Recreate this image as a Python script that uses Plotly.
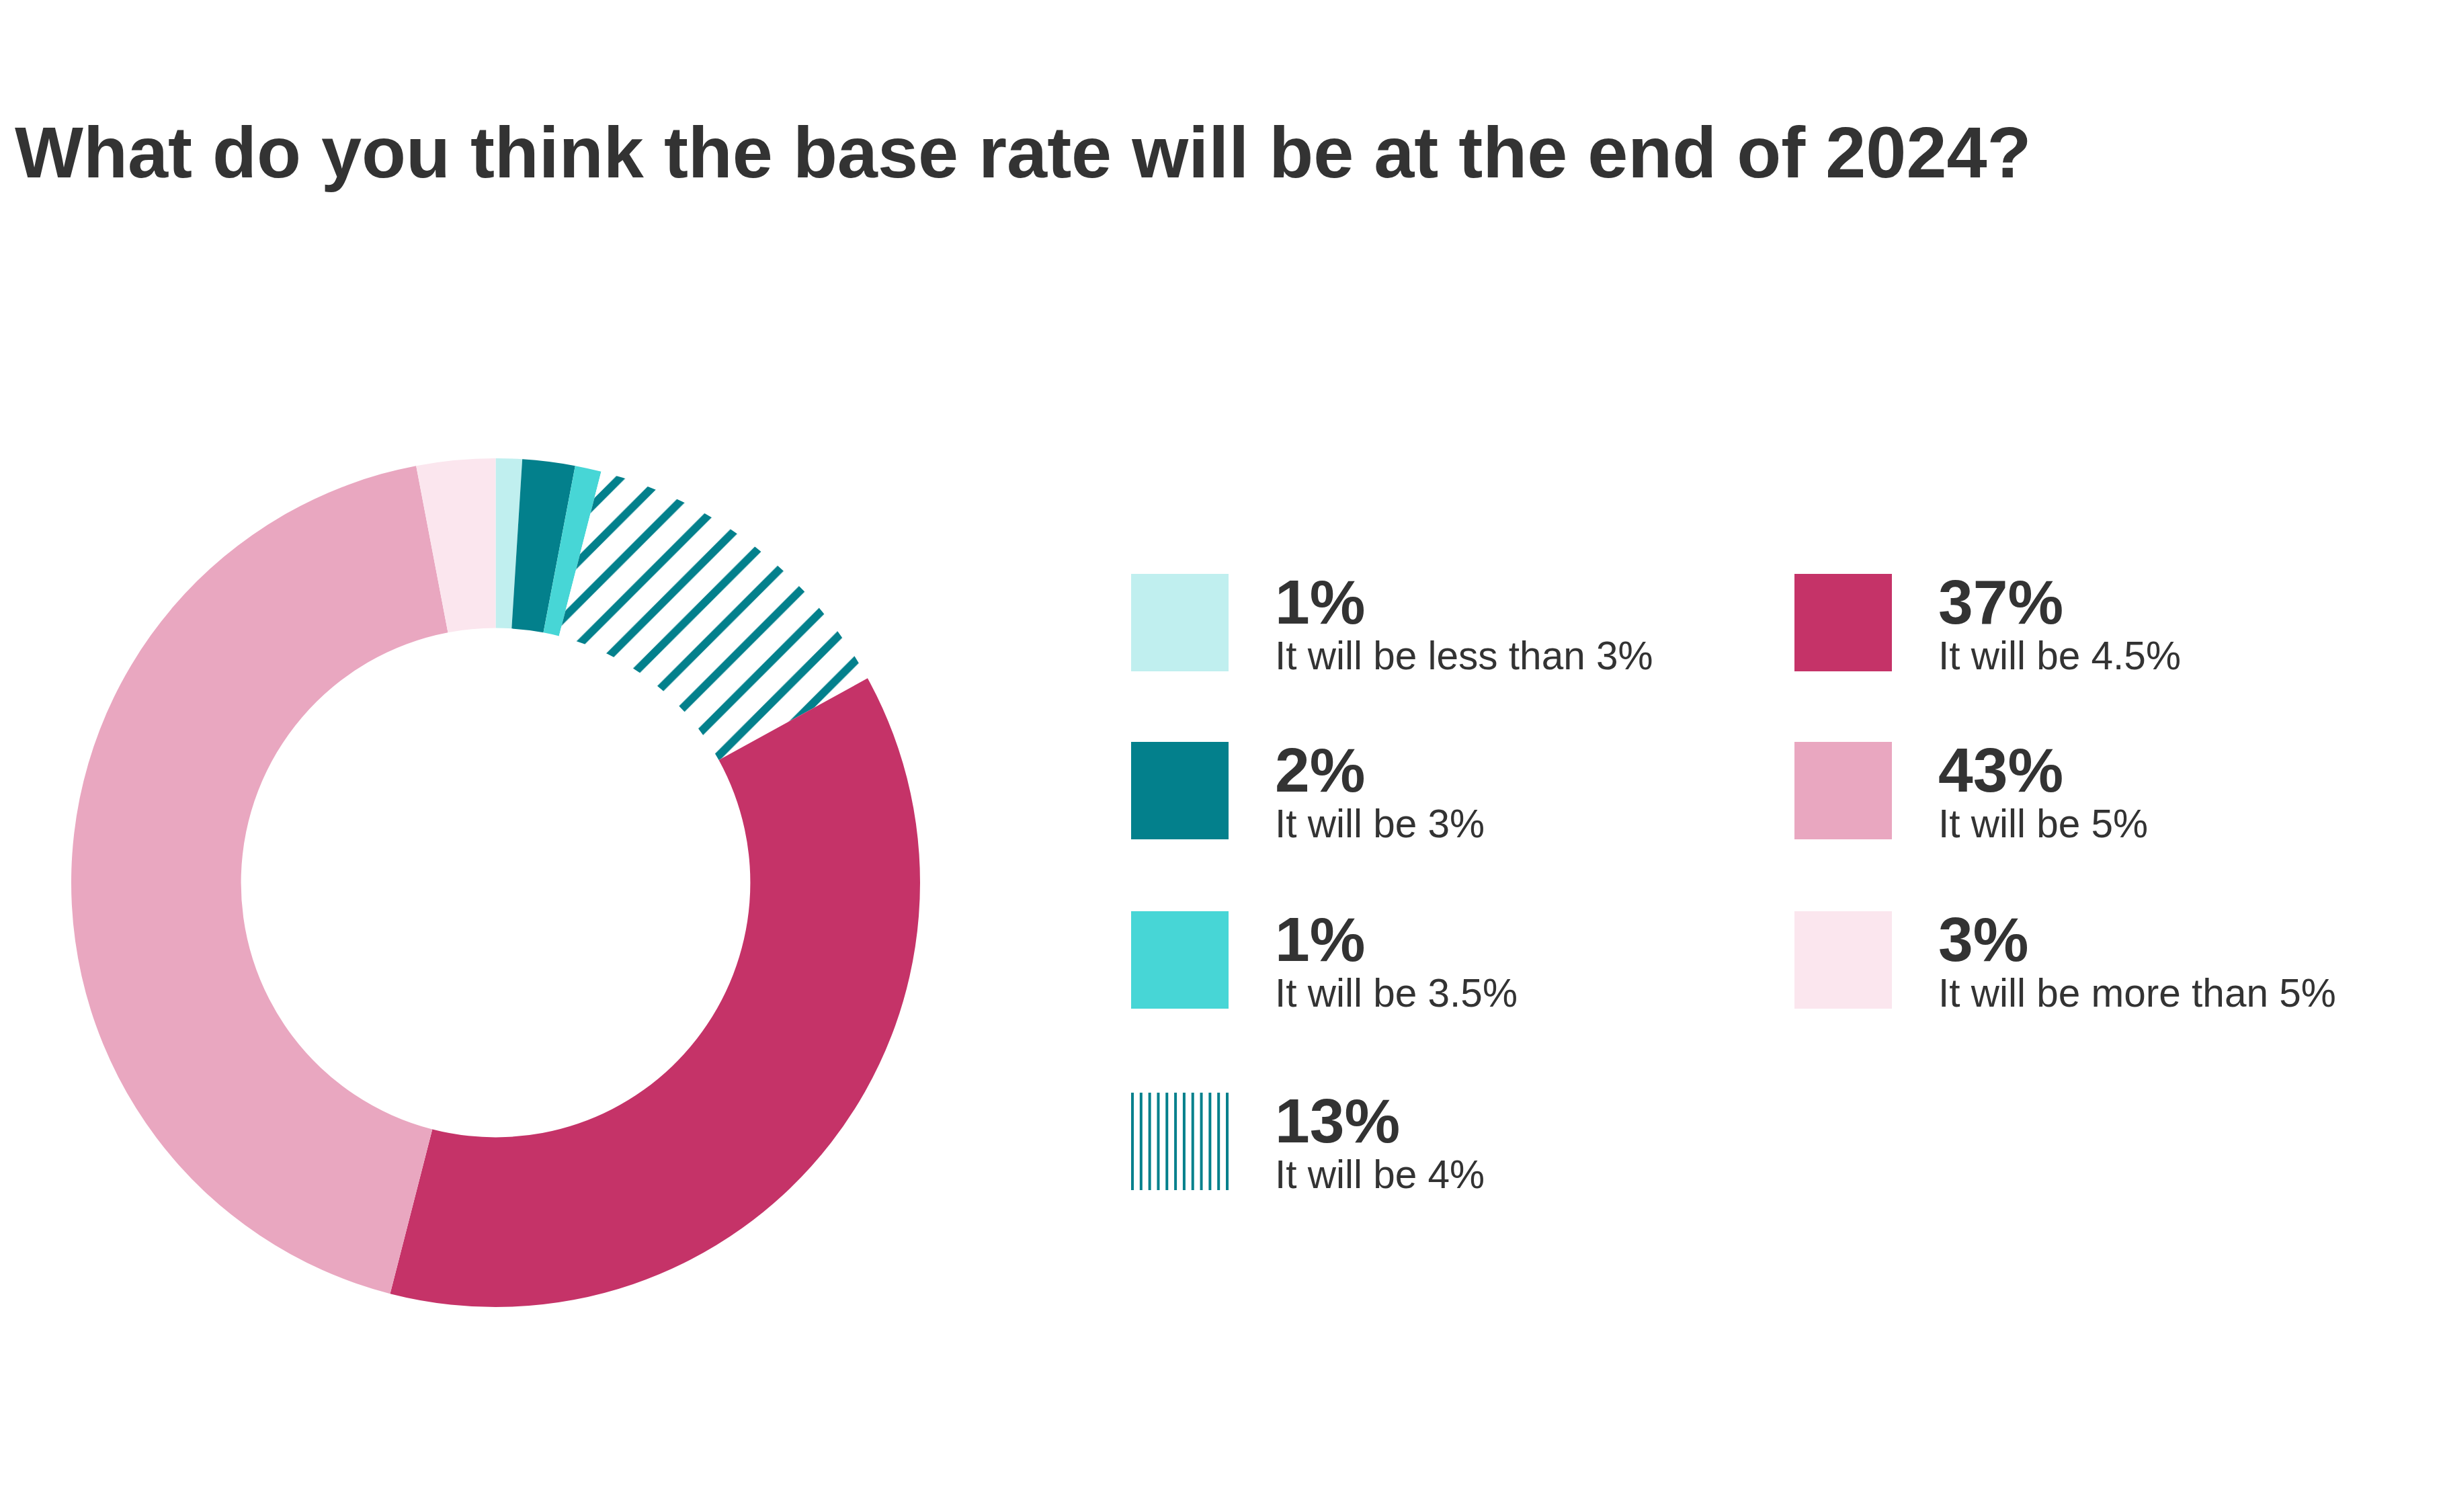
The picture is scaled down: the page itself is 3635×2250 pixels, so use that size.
import plotly.graph_objects as go

# ---- data ----
categories = [
    "It will be less than 3%",
    "It will be 3%",
    "It will be 3.5%",
    "It will be 4%",
    "It will be 4.5%",
    "It will be 5%",
    "It will be more than 5%",
]
shares = [1, 2, 1, 13, 37, 43, 3]
colors = ["#C0EFEF", "#03808C", "#47D6D6", "#03808C", "#C53368", "#E9A7C0", "#FBE6EE"]
patterns = ["", "", "", "/", "", "", ""]
title = "What do you think the base rate will be at the end of 2024?"

# ---- canvas ----
W, H = 3635, 2250
OFF = 8  # default page margin around the plot div
FW, FH = W - 2 * OFF, H - 2 * OFF
TXT = "#333333"
FONT = "Liberation Sans, Arial, sans-serif"


def px(x):
    return (x - OFF) / FW


def py(y):
    return 1 - (y - OFF) / FH


# donut geometry (screen pixels)
cx, cy, R = 737.5, 1313.5, 631.5

fig = go.Figure()
fig.add_trace(go.Pie(
    labels=categories,
    values=shares,
    sort=False,
    direction="clockwise",
    rotation=0,
    hole=0.6,
    textinfo="none",
    hoverinfo="label+percent",
    showlegend=False,
    marker=dict(
        colors=colors,
        line=dict(width=0),
        pattern=dict(shape=patterns, fillmode="replace", size=44, solidity=0.27),
    ),
    domain=dict(x=[px(cx - R), px(cx + R)], y=[py(cy + R), py(cy - R)]),
))

annotations = []
shapes = []

# title
annotations.append(dict(
    text="<b>" + title + "</b>", x=px(20), y=py(226), xref="paper", yref="paper",
    xanchor="left", yanchor="middle", showarrow=False,
    font=dict(family=FONT, size=108, color=TXT),
))

# custom legend
col_swatch_x = [1683, 2670]
row_tops = [854, 1104, 1356, 1626]
SW = 145
text_dx = 212
for i, (cat, val, col, pat) in enumerate(zip(categories, shares, colors, patterns)):
    c = 0 if i < 4 else 1
    r = i if i < 4 else i - 4
    x0 = col_swatch_x[c]
    y0 = row_tops[r]
    if pat:
        n = 12
        step = (SW - 4) / (n - 1)
        for k in range(n):
            lx = x0 + k * step
            shapes.append(dict(type="rect", xref="paper", yref="paper",
                               x0=px(lx), x1=px(lx + 4), y0=py(y0 + SW), y1=py(y0),
                               fillcolor=col, line=dict(width=0)))
    else:
        shapes.append(dict(type="rect", xref="paper", yref="paper",
                           x0=px(x0), x1=px(x0 + SW), y0=py(y0 + SW), y1=py(y0),
                           fillcolor=col, line=dict(width=0)))
    annotations.append(dict(
        text="<b>%d%%</b>" % val, x=px(x0 + text_dx), y=py(y0 + 42),
        xref="paper", yref="paper", xanchor="left", yanchor="middle", showarrow=False,
        font=dict(family=FONT, size=93, color=TXT),
    ))
    annotations.append(dict(
        text=cat, x=px(x0 + text_dx), y=py(y0 + 121),
        xref="paper", yref="paper", xanchor="left", yanchor="middle", showarrow=False,
        font=dict(family=FONT, size=58.5, color=TXT),
    ))

fig.update_layout(
    width=FW, height=FH,
    margin=dict(l=0, r=0, t=0, b=0),
    paper_bgcolor="white", plot_bgcolor="white",
    annotations=annotations, shapes=shapes,
    showlegend=False,
)

fig.write_html("out.html", config={"displayModeBar": False})
